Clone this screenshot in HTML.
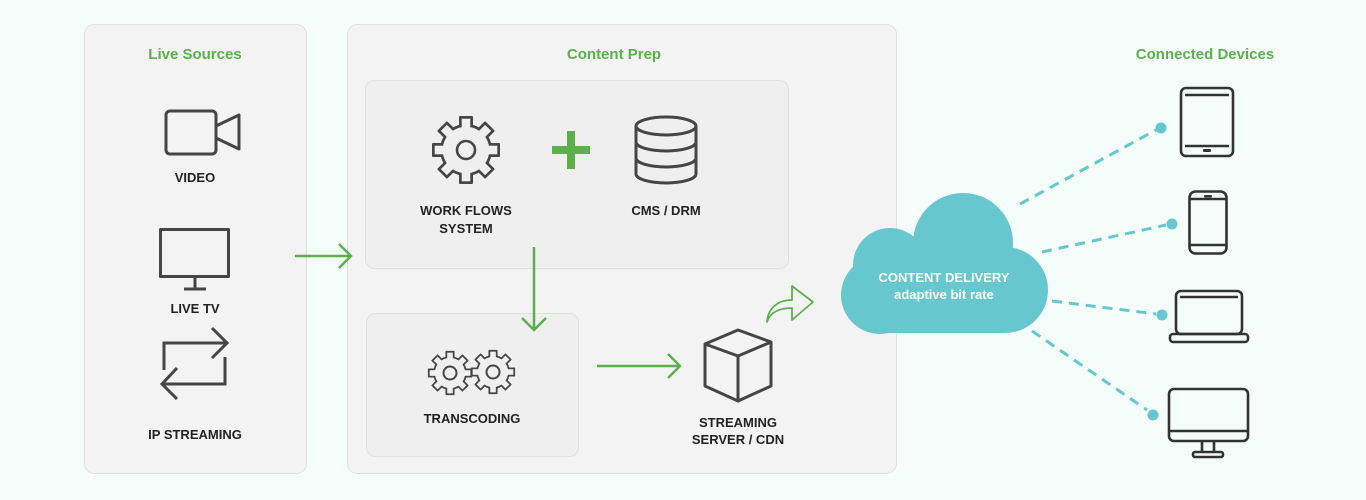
<!DOCTYPE html>
<html><head><meta charset="utf-8"><style>
html,body{margin:0;padding:0;background:#f5fdfb;}
svg{display:block;}
text{font-family:"Liberation Sans",Arial,sans-serif;font-weight:bold;}
</style></head><body>
<svg width="1366" height="500" viewBox="0 0 1366 500" xmlns="http://www.w3.org/2000/svg">
<defs>
<g id="gearD">
 <circle r="26" fill="#454545"/>
 <g fill="#454545">
  <rect x="-7" y="-34" width="14" height="12" rx="1"/>
  <rect x="-7" y="-34" width="14" height="12" rx="1" transform="rotate(45)"/>
  <rect x="-7" y="-34" width="14" height="12" rx="1" transform="rotate(90)"/>
  <rect x="-7" y="-34" width="14" height="12" rx="1" transform="rotate(135)"/>
  <rect x="-7" y="-34" width="14" height="12" rx="1" transform="rotate(180)"/>
  <rect x="-7" y="-34" width="14" height="12" rx="1" transform="rotate(225)"/>
  <rect x="-7" y="-34" width="14" height="12" rx="1" transform="rotate(270)"/>
  <rect x="-7" y="-34" width="14" height="12" rx="1" transform="rotate(315)"/>
 </g>
</g>
<g id="gearL">
 <circle r="23.3"/>
 <rect x="-4.3" y="-31.3" width="8.6" height="10"/>
 <rect x="-4.3" y="-31.3" width="8.6" height="10" transform="rotate(45)"/>
 <rect x="-4.3" y="-31.3" width="8.6" height="10" transform="rotate(90)"/>
 <rect x="-4.3" y="-31.3" width="8.6" height="10" transform="rotate(135)"/>
 <rect x="-4.3" y="-31.3" width="8.6" height="10" transform="rotate(180)"/>
 <rect x="-4.3" y="-31.3" width="8.6" height="10" transform="rotate(225)"/>
 <rect x="-4.3" y="-31.3" width="8.6" height="10" transform="rotate(270)"/>
 <rect x="-4.3" y="-31.3" width="8.6" height="10" transform="rotate(315)"/>
</g>
</defs>

<!-- panels -->
<rect x="84.5" y="24.5" width="222" height="449" rx="10" fill="#f3f3f3" stroke="#e0e0e0"/>
<rect x="347.5" y="24.5" width="549" height="449" rx="10" fill="#f3f3f3" stroke="#e0e0e0"/>
<rect x="365.5" y="80.5" width="423" height="188" rx="9" fill="#efefef" stroke="#e0e0e0"/>
<rect x="366.5" y="313.5" width="212" height="143" rx="9" fill="#efefef" stroke="#e0e0e0"/>

<text x="195" y="59" text-anchor="middle" font-size="15" fill="#5cb04c">Live Sources</text>
<text x="614" y="59" text-anchor="middle" font-size="15" fill="#5cb04c">Content Prep</text>
<text x="1205" y="59" text-anchor="middle" font-size="15" fill="#5cb04c">Connected Devices</text>

<g fill="none" stroke="#454545" stroke-width="3" stroke-linejoin="round">
 <!-- video -->
 <rect x="166" y="111" width="50" height="43" rx="4"/>
 <path d="M216 126 L239 115 L239 149 L216 138"/>
 <!-- tv -->
 <rect x="160.5" y="229.5" width="68" height="47"/>
 <path d="M195 277 V289 M184 289 H206"/>
 <!-- ip streaming -->
 <path d="M164 370 V343 H227 M212 328 L227 343 L212 358" stroke-linejoin="miter"/>
 <path d="M225 357 V384 H162 M177 368 L162 384 L177 399" stroke-linejoin="miter"/>
</g>
<g font-size="13" fill="#222" text-anchor="middle">
 <text x="195" y="182">VIDEO</text>
 <text x="195" y="313">LIVE TV</text>
 <text x="195" y="439">IP STREAMING</text>
 <text x="466" y="215">WORK FLOWS</text>
 <text x="466" y="233">SYSTEM</text>
 <text x="666" y="215">CMS / DRM</text>
 <text x="472" y="423">TRANSCODING</text>
 <text x="738" y="427">STREAMING</text>
 <text x="738" y="444">SERVER / CDN</text>
</g>

<!-- big gear -->
<g transform="translate(466,150)"><use href="#gearD"/><use href="#gearL" fill="#efefef"/><circle r="9" fill="none" stroke="#454545" stroke-width="2.6"/></g>
<!-- small gears -->
<g transform="translate(450,373) scale(0.65)"><use href="#gearD"/><use href="#gearL" fill="#efefef"/></g>
<g transform="translate(493,372) scale(0.65)"><use href="#gearD"/><use href="#gearL" fill="#efefef"/></g>
<g fill="none" stroke="#454545" stroke-width="2"><circle cx="450" cy="373" r="6.5"/><circle cx="493" cy="372" r="6.5"/></g>

<!-- plus -->
<path d="M571 131 V169 M552 150 H590" stroke="#5cb04c" stroke-width="8"/>

<!-- database -->
<g fill="none" stroke="#454545" stroke-width="3">
 <ellipse cx="666" cy="126" rx="30" ry="9"/>
 <path d="M636 126 V174 A30 9 0 0 0 696 174 V126"/>
 <path d="M636 142 A30 9 0 0 0 696 142"/>
 <path d="M636 158 A30 9 0 0 0 696 158"/>
</g>

<!-- cube -->
<g fill="none" stroke="#454545" stroke-width="3" stroke-linejoin="round">
 <path d="M738 330 L771 342 L771 386 L738 401 L705 386 L705 344 Z"/>
 <path d="M705 344 L738 356 L771 342 M738 356 V401"/>
</g>

<!-- green arrows -->
<g fill="none" stroke="#5cb04c" stroke-width="2.5">
 <path d="M295 256 H351 M339 244 L351 256 L339 268"/>
 <path d="M534 247 V330 M522 318 L534 330 L546 318"/>
 <path d="M597 366 H680 M668 354 L680 366 L668 378"/>
 <path d="M767 322 C768 308 778 300 792 300 V286 L813 302 L792 320 V308 C780 308 770 312 767 322 Z" stroke-width="1.8" stroke-linejoin="round"/>
</g>

<!-- cloud -->
<g fill="#66c7cf">
 <circle cx="963" cy="243" r="50"/>
 <circle cx="890" cy="265" r="37"/>
 <circle cx="880" cy="295" r="39"/>
 <circle cx="1005" cy="290" r="43"/>
 <rect x="880" y="270" width="125" height="63"/>
</g>
<text x="944" y="282" text-anchor="middle" font-size="13" fill="#fff">CONTENT DELIVERY</text>
<text x="944" y="299" text-anchor="middle" font-size="13" fill="#fff">adaptive bit rate</text>

<!-- dashed lines -->
<g stroke="#66c7cf" stroke-width="3" stroke-dasharray="10 7" fill="none">
 <line x1="1020" y1="204" x2="1156" y2="130"/>
 <line x1="1042" y1="252" x2="1166" y2="225"/>
 <line x1="1052" y1="301" x2="1156" y2="314"/>
 <line x1="1032" y1="331" x2="1147" y2="410"/>
</g>
<g fill="#66c7cf">
 <circle cx="1161" cy="128" r="5.5"/>
 <circle cx="1172" cy="224" r="5.5"/>
 <circle cx="1162" cy="315" r="5.5"/>
 <circle cx="1153" cy="415" r="5.5"/>
</g>

<!-- devices -->
<g fill="none" stroke="#333" stroke-width="2.6" stroke-linejoin="round">
 <rect x="1181" y="88" width="52" height="68" rx="5"/>
 <path d="M1185 95 H1229 M1185 146 H1229"/>
 <rect x="1189.5" y="191.5" width="37" height="62" rx="6"/>
 <path d="M1190 199 H1226 M1190 245 H1226"/>
 <rect x="1176" y="291" width="66" height="43" rx="5"/>
 <rect x="1170" y="334" width="78" height="8" rx="3"/>
 <path d="M1180 297 H1238"/>
 <rect x="1169" y="389" width="79" height="52" rx="5"/>
 <path d="M1169 431 H1248 M1202 441 V452 M1214 441 V452"/>
 <rect x="1193" y="452" width="30" height="5" rx="2"/>
</g>
<g fill="#333"><rect x="1203" y="149" width="8" height="3" rx="1"/><rect x="1204" y="195" width="8" height="2.5" rx="1"/></g>
</svg>
</body></html>
